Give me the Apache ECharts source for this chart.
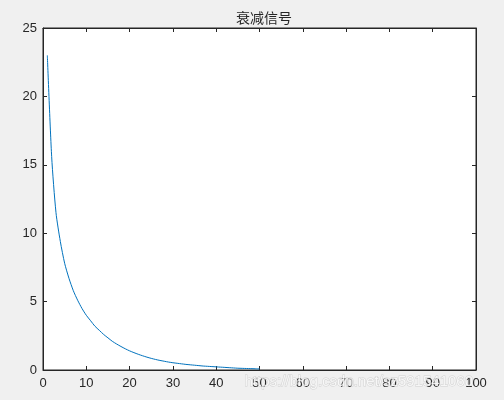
<!DOCTYPE html>
<html>
<head>
<meta charset="utf-8">
<title>衰减信号</title>
<script src="https://cdn.jsdelivr.net/npm/echarts@6/dist/echarts.min.js"></script>
<style>
  html, body { margin: 0; padding: 0; background: #f0f0f0; }
  #main { width: 504px; height: 400px; }
</style>
</head>
<body>
<div id="main"></div>
<script>
// 数据：采样点 1..50 与读出的衰减值
var xValues = [];
for (var i = 1; i <= 50; i++) { xValues.push(i); }
var yValues = [
    23, 15.6, 11.5, 9.4, 7.8, 6.7, 5.8, 5.1, 4.5, 4.0,
    3.6, 3.2, 2.9, 2.6, 2.35, 2.1, 1.9, 1.72, 1.55, 1.4,
    1.27, 1.15, 1.04, 0.94, 0.85, 0.77, 0.70, 0.64, 0.58, 0.53,
    0.49, 0.45, 0.41, 0.38, 0.35, 0.32, 0.29, 0.27, 0.25, 0.23,
    0.21, 0.19, 0.17, 0.15, 0.13, 0.12, 0.11, 0.10, 0.09, 0.08
];
var titleText = '衰减信号';
var watermark = 'https://blog.csdn.net/sz591541060';

var seriesData = [];
for (var k = 0; k < xValues.length; k++) {
    seriesData.push([xValues[k], yValues[k]]);
}

var axisColor = '#262626';
var labelFont = { color: axisColor, fontSize: 13, fontFamily: 'Liberation Sans, Arial, sans-serif' };

// 四周的边框轴，刻度朝内
function boxAxis(pos, min, max, interval, withLabel, margin) {
    return {
        type: 'value',
        min: min,
        max: max,
        interval: interval,
        position: pos,
        axisLine: { show: true, onZero: false, lineStyle: { color: axisColor } },
        axisTick: { show: true, inside: true, length: 4, lineStyle: { color: axisColor } },
        axisLabel: withLabel ? Object.assign({ margin: margin }, labelFont) : { show: false },
        splitLine: { show: false }
    };
}

var myChart = echarts.init(document.getElementById('main'));
var option = {
    backgroundColor: '#f0f0f0',
    animation: false,
    title: {
        text: titleText,
        left: 259,
        textAlign: 'center',
        top: 6,
        textStyle: {
            color: axisColor,
            fontSize: 14,
            fontWeight: 'normal',
            fontFamily: 'Noto Sans CJK SC'
        }
    },
    grid: {
        left: 43,
        right: 28,
        top: 28,
        bottom: 30,
        show: true,
        backgroundColor: '#ffffff',
        borderColor: axisColor,
        borderWidth: 1
    },
    xAxis: [
        boxAxis('bottom', 0, 100, 10, true, 7),
        boxAxis('top', 0, 100, 10, false, 0)
    ],
    yAxis: [
        boxAxis('left', 0, 25, 5, true, 6),
        boxAxis('right', 0, 25, 5, false, 0)
    ],
    series: [
        {
            type: 'line',
            data: seriesData,
            xAxisIndex: 0,
            yAxisIndex: 0,
            showSymbol: false,
            smooth: 0.25,
            lineStyle: { color: '#0072bd', width: 1 },
            z: 3
        }
    ],
    graphic: [
        {
            type: 'text',
            left: 244,
            top: 374,
            z: 10,
            style: {
                text: watermark,
                fontSize: 15,
                fontFamily: 'Liberation Sans, Arial, sans-serif',
                fill: 'rgba(255,255,255,0.8)',
                stroke: 'rgba(170,170,170,0.45)',
                lineWidth: 1
            }
        }
    ]
};

myChart.setOption(option);
</script>
</body>
</html>
